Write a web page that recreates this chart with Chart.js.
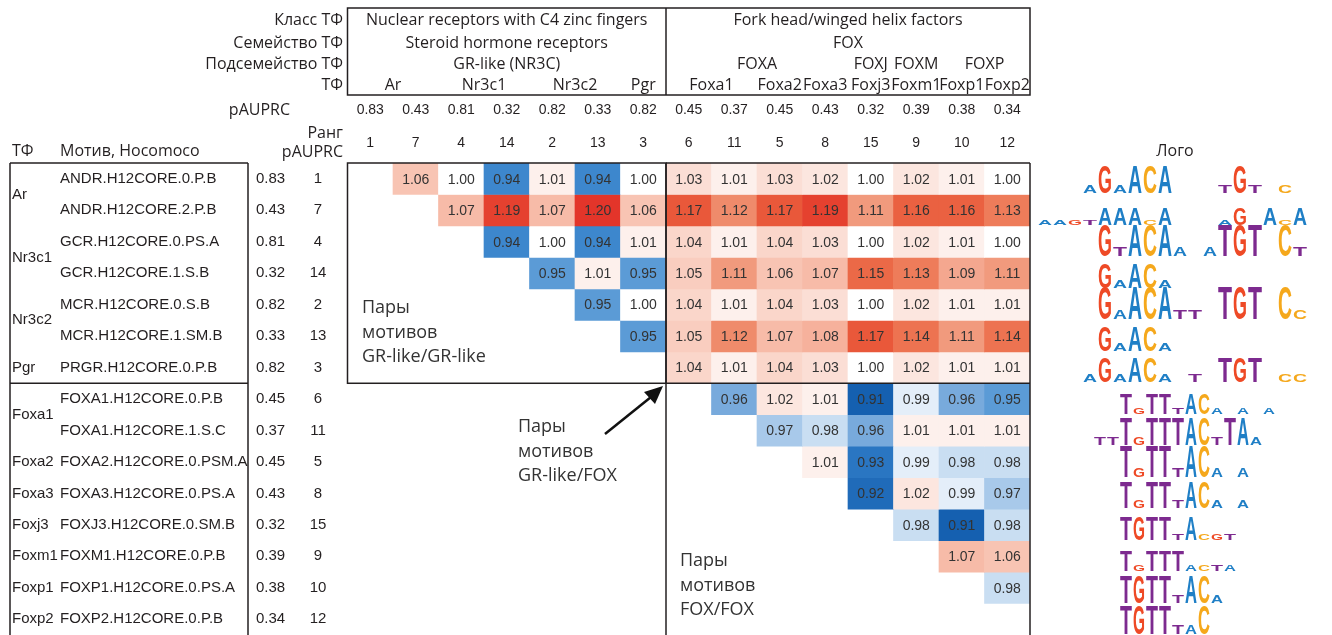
<!DOCTYPE html>
<html>
<head>
<meta charset="utf-8">
<script src="https://cdn.jsdelivr.net/npm/chart.js@4.4.1/dist/chart.umd.min.js"></script>
<style>
  html, body { margin: 0; padding: 0; background: #fff; }
  #wrap { width: 1332px; height: 635px; position: relative; }
</style>
</head>
<body>
<div id="wrap"><canvas id="pairChart"></canvas></div>
<script>
// motifs, in the order used for both rows and columns
const motifs = [
  'ANDR.H12CORE.0.P.B', 'ANDR.H12CORE.2.P.B', 'GCR.H12CORE.0.PS.A', 'GCR.H12CORE.1.S.B',
  'MCR.H12CORE.0.S.B', 'MCR.H12CORE.1.SM.B', 'PRGR.H12CORE.0.P.B', 'FOXA1.H12CORE.0.P.B',
  'FOXA1.H12CORE.1.S.C', 'FOXA2.H12CORE.0.PSM.A', 'FOXA3.H12CORE.0.PS.A', 'FOXJ3.H12CORE.0.SM.B',
  'FOXM1.H12CORE.0.P.B', 'FOXP1.H12CORE.0.PS.A', 'FOXP2.H12CORE.0.P.B'
];
const pauprc = [0.83, 0.43, 0.81, 0.32, 0.82, 0.33, 0.82, 0.45, 0.37, 0.45, 0.43, 0.32, 0.39, 0.38, 0.34];
const ranks = [1, 7, 4, 14, 2, 13, 3, 6, 11, 5, 8, 15, 9, 10, 12];

// TF groups (first motif index, number of motifs)
const tfNames = ['Ar', 'Nr3c1', 'Nr3c2', 'Pgr', 'Foxa1', 'Foxa2', 'Foxa3', 'Foxj3', 'Foxm1', 'Foxp1', 'Foxp2'];
const tfFirst = [0, 2, 4, 6, 7, 9, 10, 11, 12, 13, 14];
const tfCount = [2, 2, 2, 1, 2, 1, 1, 1, 1, 1, 1];

// header hierarchy
const classNames = ['Nuclear receptors with C4 zinc fingers', 'Fork head/winged helix factors'];
const classCols = [[0, 6], [7, 14]];
const familyNames = ['Steroid hormone receptors', 'FOX'];
const familyCols = [[0, 6], [7, 14]];
const subfamilyNames = ['GR-like (NR3C)', 'FOXA', 'FOXJ', 'FOXM', 'FOXP'];
const subfamilyCols = [[0, 6], [7, 10], [11, 11], [12, 12], [13, 14]];

// ratio for pair (row i, column j>i); row i lists columns i+1..14
const ratios = [
  [1.06, 1.00, 0.94, 1.01, 0.94, 1.00, 1.03, 1.01, 1.03, 1.02, 1.00, 1.02, 1.01, 1.00],
  [1.07, 1.19, 1.07, 1.20, 1.06, 1.17, 1.12, 1.17, 1.19, 1.11, 1.16, 1.16, 1.13],
  [0.94, 1.00, 0.94, 1.01, 1.04, 1.01, 1.04, 1.03, 1.00, 1.02, 1.01, 1.00],
  [0.95, 1.01, 0.95, 1.05, 1.11, 1.06, 1.07, 1.15, 1.13, 1.09, 1.11],
  [0.95, 1.00, 1.04, 1.01, 1.04, 1.03, 1.00, 1.02, 1.01, 1.01],
  [0.95, 1.05, 1.12, 1.07, 1.08, 1.17, 1.14, 1.11, 1.14],
  [1.04, 1.01, 1.04, 1.03, 1.00, 1.02, 1.01, 1.01],
  [0.96, 1.02, 1.01, 0.91, 0.99, 0.96, 0.95],
  [0.97, 0.98, 0.96, 1.01, 1.01, 1.01],
  [1.01, 0.93, 0.99, 0.98, 0.98],
  [0.92, 1.02, 0.99, 0.97],
  [0.98, 0.91, 0.98],
  [1.07, 1.06],
  [0.98],
  []
];

// sequence logos, rough letter strings (upper = tall, lower = small)
const logoSeqs = [
  '..aGaACA...tGt.c.', 'aagtAAAcA...aG.AcA', '...GtACAa.aTGT.Ct', '...GaACa', '...GaACAtt.TGT.Cc',
  '...GaACa', '..aGaACa.t.TGT.cc', 'TgTTtACa.a.a', 'ttTgTTTACtTAa', 'TgTTtACa.a',
  'TgTTtACa.a', '.TGTTtAcgt', 'TgTTTacta', 'TGTTtACa', '.TGTTtaC'
];
const logoHeights = [27, 17, 31, 25, 32, 25, 25, 21, 27, 31, 26, 23, 20, 27, 28];

// colour scale (diverging around 1)
const redStops = [[1.00, [255, 255, 255]], [1.01, [253, 240, 236]], [1.02, [252, 230, 223]], [1.04, [250, 214, 202]],
  [1.07, [247, 187, 168]], [1.09, [244, 167, 143]], [1.11, [241, 154, 125]], [1.13, [238, 124, 90]],
  [1.15, [235, 105, 71]], [1.17, [233, 88, 58]], [1.20, [227, 53, 42]]];
const blueStops = [[1.00, [255, 255, 255]], [0.99, [228, 238, 249]], [0.98, [201, 222, 242]], [0.97, [168, 201, 234]],
  [0.96, [120, 170, 220]], [0.95, [91, 155, 214]], [0.94, [61, 135, 205]], [0.93, [42, 118, 194]], [0.91, [21, 96, 176]]];

function cellColor(v) {
  const stops = v >= 1 ? redStops : blueStops;
  for (let k = 1; k < stops.length; k++) {
    const [a, ca] = stops[k - 1], [b, cb] = stops[k];
    const inside = v >= 1 ? v <= b : v >= b;
    if (inside) {
      const t = (v - a) / (b - a);
      const c = ca.map((q, n) => Math.round(q + (cb[n] - q) * t));
      return `rgb(${c[0]},${c[1]},${c[2]})`;
    }
  }
  const c = stops[stops.length - 1][1];
  return `rgb(${c[0]},${c[1]},${c[2]})`;
}

const INK = '#231f20';
const HEAD_FONT = '"Open Sans", "Noto Sans", sans-serif';
const TAB_FONT = '"Liberation Sans", Arial, sans-serif';
const LOGO_COLORS = { A: '#1f7fc6', C: '#f5a81c', G: '#ee4a26', T: '#7d2a8f' };

// one floating-bar dataset per row
const datasets = motifs.map((m, i) => ({
  label: m,
  data: motifs.map((_, j) => (j > i ? [i, i + 1] : null)),
  backgroundColor: motifs.map((_, j) => (j > i ? cellColor(ratios[i][j - i - 1]) : 'rgba(0,0,0,0)')),
  borderWidth: 0,
  grouped: false,
  barPercentage: 1,
  categoryPercentage: 1
}));

function drawLetter(ctx, ch, cx, base, w, h) {
  ctx.save();
  ctx.font = 'bold 100px "Liberation Sans", Arial, sans-serif';
  ctx.textAlign = 'center';
  ctx.textBaseline = 'alphabetic';
  const m = ctx.measureText(ch);
  const capH = m.actualBoundingBoxAscent || 72;
  ctx.translate(cx, base);
  ctx.scale(w / m.width, h / capH);
  ctx.fillStyle = LOGO_COLORS[ch];
  ctx.fillText(ch, 0, 0);
  ctx.restore();
}

const figurePlugin = {
  id: 'figureText',
  afterDatasetsDraw(chart) {
    const { ctx, scales: { x, y } } = chart;
    const colW = x.width / motifs.length;
    const cx = j => x.getPixelForValue(j);
    const cy = i => y.getPixelForValue(i + 0.5);
    const rowEdge = i => y.getPixelForValue(i);
    const colEdge = j => x.left + j * colW;
    const split = colEdge(7);

    ctx.save();
    ctx.textBaseline = 'middle';

    // values in cells
    ctx.font = `14px ${TAB_FONT}`;
    ctx.textAlign = 'center';
    ctx.fillStyle = '#333';
    ratios.forEach((row, i) => row.forEach((v, k) => {
      ctx.fillText(v.toFixed(2), cx(i + k + 1), cy(i) + 1);
    }));

    // header rows
    ctx.fillStyle = INK;
    ctx.font = `16px ${HEAD_FONT}`;
    const headY = [20, 43, 64, 85];
    ctx.textAlign = 'right';
    ['Класс ТФ', 'Семейство ТФ', 'Подсемейство ТФ', 'ТФ'].forEach((t, k) => ctx.fillText(t, 343, headY[k]));
    ctx.textAlign = 'center';
    const spanMid = c => (cx(c[0]) + cx(c[1])) / 2;
    classNames.forEach((t, k) => ctx.fillText(t, spanMid(classCols[k]), headY[0]));
    familyNames.forEach((t, k) => ctx.fillText(t, spanMid(familyCols[k]), headY[1]));
    subfamilyNames.forEach((t, k) => ctx.fillText(t, spanMid(subfamilyCols[k]), headY[2]));
    tfNames.forEach((t, k) => ctx.fillText(t, spanMid([tfFirst[k], tfFirst[k] + tfCount[k] - 1]), headY[3]));

    // pAUPRC and rank rows above the matrix
    ctx.textAlign = 'right';
    ctx.fillText('pAUPRC', 290, 110);
    ctx.fillText('Ранг', 343, 133);
    ctx.fillText('pAUPRC', 343, 152);
    ctx.textAlign = 'left';
    ctx.fillText('ТФ', 12, 151);
    ctx.fillText('Мотив, Hocomoco', 60, 151);
    ctx.textAlign = 'center';
    ctx.fillText('Лого', 1175, 151);
    ctx.font = `14px ${TAB_FONT}`;
    motifs.forEach((_, j) => {
      ctx.fillText(pauprc[j].toFixed(2), cx(j), 110);
      ctx.fillText(String(ranks[j]), cx(j), 143);
    });

    // left table
    ctx.font = `15px ${TAB_FONT}`;
    motifs.forEach((m, i) => {
      ctx.textAlign = 'left';
      ctx.fillText(m, 60, cy(i));
      ctx.fillText(pauprc[i].toFixed(2), 256, cy(i));
      ctx.textAlign = 'center';
      ctx.fillText(String(ranks[i]), 318, cy(i));
    });
    ctx.textAlign = 'left';
    tfNames.forEach((t, k) => {
      const mid = (cy(tfFirst[k]) + cy(tfFirst[k] + tfCount[k] - 1)) / 2;
      ctx.fillText(t, 12, mid);
    });

    // annotations
    ctx.font = `18px ${HEAD_FONT}`;
    ctx.fillStyle = '#333';
    [['Пары', 'мотивов', 'GR-like/GR-like', 362, 308],
     ['Пары', 'мотивов', 'GR-like/FOX', 518, 427],
     ['Пары', 'мотивов', 'FOX/FOX', 680, 561]].forEach(a => {
      ctx.fillText(a[0], a[3], a[4]);
      ctx.fillText(a[1], a[3], a[4] + 25);
      ctx.fillText(a[2], a[3], a[4] + 49);
    });

    // arrow
    ctx.strokeStyle = '#111';
    ctx.fillStyle = '#111';
    ctx.lineWidth = 2.5;
    ctx.beginPath();
    ctx.moveTo(605, 434);
    ctx.lineTo(651, 397);
    ctx.stroke();
    ctx.beginPath();
    ctx.moveTo(663, 386);
    ctx.lineTo(644, 392);
    ctx.lineTo(655, 404);
    ctx.closePath();
    ctx.fill();

    // frames
    ctx.strokeStyle = INK;
    ctx.lineWidth = 1.5;
    const line = (x1, y1, x2, y2) => { ctx.beginPath(); ctx.moveTo(x1, y1); ctx.lineTo(x2, y2); ctx.stroke(); };
    ctx.strokeRect(x.left, 8, x.right - x.left, 87);
    line(split, 8, split, 95);
    ctx.strokeRect(x.left, y.top, split - x.left, rowEdge(7) - y.top);
    line(split, y.top, x.right, y.top);
    line(split, y.top, split, y.bottom);
    line(x.right, y.top, x.right, y.bottom);
    line(split, rowEdge(7), x.right, rowEdge(7));
    line(10, y.top, 248, y.top);
    line(10, y.top, 10, y.bottom);
    line(248, y.top, 248, y.bottom);
    line(10, rowEdge(7), 248, rowEdge(7));

    // logos
    logoSeqs.forEach((seq, i) => {
      const gr = i < 7;
      const step = gr ? 15 : 13;
      const x0 = gr ? (i === 1 ? 1045 : 1060) : (seq[0] === 't' ? 1100 : (seq[0] === '.' ? 1113 : 1126));
      const base = rowEdge(i + 1) - 1;
      const h = logoHeights[i];
      [...seq].forEach((ch, k) => {
        if (ch === '.') return;
        const up = ch.toUpperCase();
        const tall = ch === up;
        drawLetter(ctx, up, x0 + k * step, base, step - 1, tall ? h : h * 0.3);
      });
    });
    ctx.restore();
  }
};

Chart.defaults.font.family = TAB_FONT;

new Chart(document.getElementById('pairChart'), {
  type: 'bar',
  data: { labels: motifs, datasets },
  options: {
    responsive: true,
    maintainAspectRatio: false,
    animation: false,
    layout: { padding: { left: 347.5, right: 302, top: 163, bottom: 0 } },
    plugins: { legend: { display: false }, tooltip: { enabled: false } },
    scales: {
      x: { display: false, stacked: true },
      y: { display: false, min: 0, max: 15, reverse: true }
    }
  },
  plugins: [figurePlugin]
});
</script>
</body>
</html>
